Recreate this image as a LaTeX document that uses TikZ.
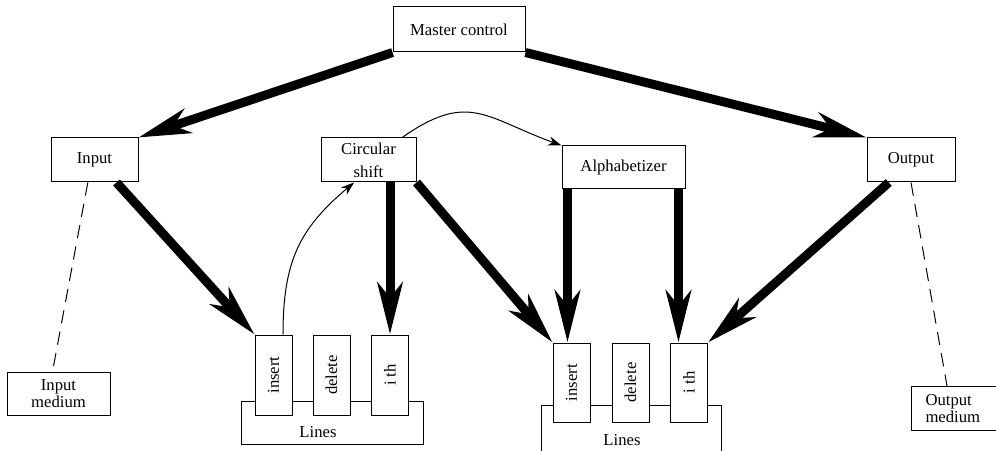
\documentclass[tikz,border=0pt]{standalone}
\usepackage{fontspec}
\setmainfont{Liberation Serif}
\usetikzlibrary{arrows.meta,positioning,calc}

\begin{document}
\begin{tikzpicture}[x=0.6pt,y=-0.6pt,
  box/.style={draw,fill=white,line width=0.6pt,inner sep=1pt,align=center,
              font=\fontsize{10}{14}\selectfont},
  opbox/.style={draw,fill=white,line width=0.6pt,minimum width=22.2pt,
                minimum height=48pt,inner sep=0pt,font=\fontsize{10}{12}\selectfont},
  linesbox/.style={draw,line width=0.6pt,minimum width=109.2pt,
                   minimum height=25.8pt,inner sep=0pt},
  bigarrow/.style={-{Stealth[length=31pt,width=15pt,inset=9pt]},line width=5.4pt},
  thinarrow/.style={-{Stealth[length=8pt,width=5.5pt,inset=2.5pt]},line width=0.6pt},
  medline/.style={dash pattern=on 8pt off 5pt,line width=0.6pt},
]
\useasboundingbox (0,0) rectangle (996,451);
\clip (0,0) rectangle (996,451);
% modules
\node[box,minimum width=79.2pt,minimum height=27pt] (master) at (459,29.5) {Master control};
\node[box,minimum width=52.2pt,minimum height=26.4pt] (input) at (94.5,160) {Input};
\node[box,minimum width=57pt,minimum height=26.4pt] (circ) at (368.5,160) {Circular\\shift};
\node[box,minimum width=73.8pt,minimum height=25.8pt] (alpha) at (623.5,167.5) {Alphabetizer};
\node[box,minimum width=52.8pt,minimum height=26.4pt] (output) at (911,160) {Output};
\node[box,minimum width=61.8pt,minimum height=25.8pt,font=\fontsize{10}{8.5}\selectfont]
  (inmed) at (58.5,393.5) {Input\\medium};
\node[box,anchor=north west,text width=42.6pt,align=left,inner xsep=8.4pt,
      minimum height=26.4pt,font=\fontsize{10}{8.5}\selectfont]
  (outmed) at (911,386) {Output\\medium};
% line storage
\node[linesbox] (lines1) at (332,422.5) {};
\node[font=\fontsize{10}{12}\selectfont] (lines1txt) at (318,432) {Lines};
\node[linesbox,minimum width=108pt,minimum height=39pt] (lines2) at (631,438) {};
\node[font=\fontsize{10}{12}\selectfont] (lines2txt) at (622,440) {Lines};
\node[opbox] (ins1) at (273.5,375) {\rotatebox{90}{insert}};
\node[opbox] (del1) at (331.5,375) {\rotatebox{90}{delete}};
\node[opbox] (ith1) at (390,375) {\rotatebox{90}{i th}};
\node[opbox,minimum height=47.4pt] (ins2) at (571.5,382.5) {\rotatebox{90}{insert}};
\node[opbox,minimum height=47.4pt] (del2) at (630.5,382.5) {\rotatebox{90}{delete}};
\node[opbox,minimum height=47.4pt] (ith2) at (689,382.5) {\rotatebox{90}{i th}};
% calls
\draw[bigarrow] (master.south west) -- (input.north east);
\draw[bigarrow] (master.south east) -- (output.north west);
\draw[bigarrow] ($(input.south)!0.5!(input.south east)$) -- (ins1.north west);
\draw[bigarrow] (ith1.north |- circ.south) -- (ith1.north);
\draw[bigarrow] (circ.south east) -- (ins2.north west);
\draw[bigarrow] ([xshift=3.6pt]alpha.south west) -- ([xshift=3.6pt]alpha.south west |- ins2.north);
\draw[bigarrow] ([xshift=-4.2pt]alpha.south east) -- ([xshift=-4.2pt]alpha.south east |- ith2.north);
\draw[bigarrow] ($(output.south west)!0.5!(output.south)$) -- (ith2.north east);
% control flow
\draw[thinarrow] ($(circ.north)!0.7!(circ.north east)$) to[out=35,in=160,looseness=1.3] (alpha.north west);
\draw[thinarrow] ($(ins1.north)!0.5!(ins1.north east)$) to[out=90,in=220,looseness=1.1]
  ($(circ.south west)!0.7!(circ.south)$);
% media
\draw[medline] ([xshift=-4pt]input.south) -- ([xshift=-3.6pt]inmed.north);
\draw[medline] (output.south) -- ([xshift=21.6pt]outmed.north west);
\end{tikzpicture}
\end{document}
